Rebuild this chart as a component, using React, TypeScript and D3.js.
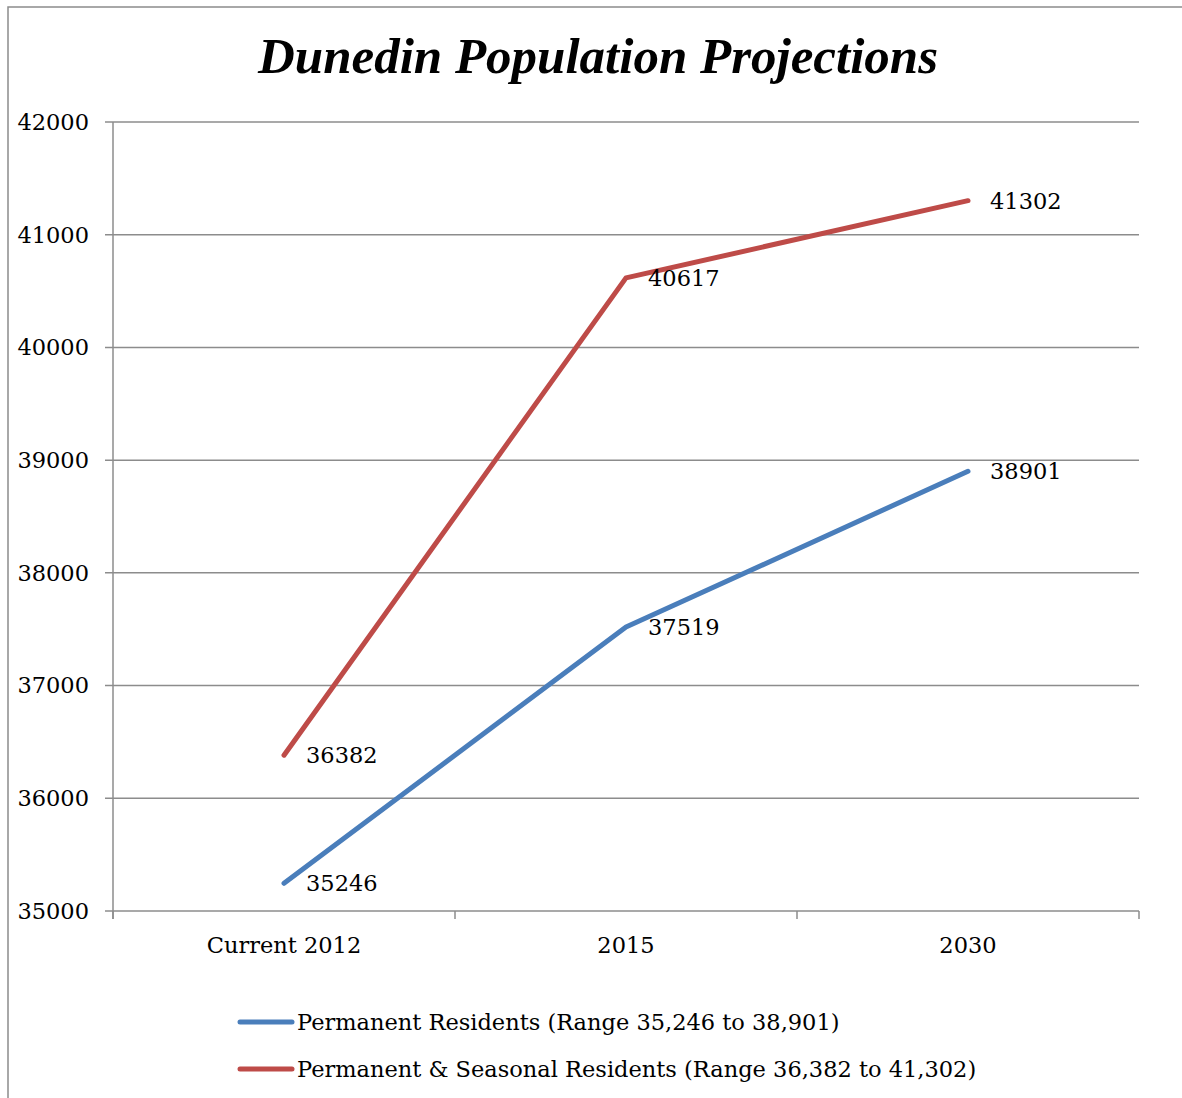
import React, { useEffect, useRef } from "react";
import * as d3 from "d3";

const categories = ["Current 2012", "2015", "2030"];
const permanent = [35246, 37519, 38901];
const seasonal = [36382, 40617, 41302];
const yTicks = [35000, 36000, 37000, 38000, 39000, 40000, 41000, 42000];
const seriesNames = [
  "Permanent Residents (Range 35,246 to 38,901)",
  "Permanent & Seasonal Residents (Range 36,382 to 41,302)",
];
const seriesColors = ["#4a7ebb", "#be4b48"];

const FONT = "'DejaVu Serif', serif";
const TITLE_FONT = "'Liberation Serif', 'Times New Roman', serif";
const FS = 22.5;

export default function App() {
  const svgRef = useRef<SVGSVGElement>(null);

  useEffect(() => {
    const svg = d3.select(svgRef.current);
    svg.selectAll("*").remove();

    const dims = { left: 113, right: 1139, top: 122, bottom: 911 };

    // outer chart border (only top & left visible in the frame)
    svg.append("rect")
      .attr("x", 8).attr("y", 7)
      .attr("width", 1300).attr("height", 1300)
      .attr("fill", "none")
      .attr("stroke", "#8c8c8c")
      .attr("stroke-width", 1.5);

    svg.append("text")
      .attr("x", 598).attr("y", 73)
      .attr("text-anchor", "middle")
      .attr("font-family", TITLE_FONT)
      .attr("font-weight", "bold")
      .attr("font-style", "italic")
      .attr("font-size", 51)
      .text("Dunedin Population Projections");

    const xScale = d3.scaleBand().domain(categories).range([dims.left, dims.right]);
    const yScale = d3.scaleLinear().domain([35000, 42000]).range([dims.bottom, dims.top]);

    // gridlines
    svg.append("g")
      .selectAll("line")
      .data(yTicks)
      .join("line")
      .attr("x1", dims.left - 8)
      .attr("x2", dims.right)
      .attr("y1", d => yScale(d))
      .attr("y2", d => yScale(d))
      .attr("stroke", "#8c8c8c")
      .attr("stroke-width", 1.5);

    // y axis
    svg.append("line")
      .attr("x1", dims.left).attr("x2", dims.left)
      .attr("y1", dims.top).attr("y2", dims.bottom + 8)
      .attr("stroke", "#8c8c8c").attr("stroke-width", 1.5);

    svg.append("g")
      .selectAll("text")
      .data(yTicks)
      .join("text")
      .attr("x", dims.left - 24)
      .attr("y", d => yScale(d))
      .attr("dy", "0.35em")
      .attr("text-anchor", "end")
      .attr("font-family", FONT)
      .attr("font-size", FS)
      .text(d => d);

    // x tick marks at band edges
    const edges = categories.map(c => xScale(c)!).concat(dims.right);
    svg.append("g")
      .selectAll("line")
      .data(edges)
      .join("line")
      .attr("x1", d => d).attr("x2", d => d)
      .attr("y1", dims.bottom).attr("y2", dims.bottom + 8)
      .attr("stroke", "#8c8c8c").attr("stroke-width", 1.5);

    svg.append("g")
      .selectAll("text")
      .data(categories)
      .join("text")
      .attr("x", d => xScale(d)! + xScale.bandwidth() / 2)
      .attr("y", dims.bottom + 34)
      .attr("dy", "0.35em")
      .attr("text-anchor", "middle")
      .attr("font-family", FONT)
      .attr("font-size", FS)
      .text(d => d);

    const cx = (c: string) => xScale(c)! + xScale.bandwidth() / 2;
    const line = d3.line<number>()
      .x((_, i) => cx(categories[i]))
      .y(d => yScale(d));

    [permanent, seasonal].forEach((series, s) => {
      svg.append("path")
        .datum(series)
        .attr("d", line)
        .attr("fill", "none")
        .attr("stroke", seriesColors[s])
        .attr("stroke-width", 5)
        .attr("stroke-linecap", "round")
        .attr("stroke-linejoin", "round");

      svg.append("g")
        .selectAll("text")
        .data(series)
        .join("text")
        .attr("x", (_, i) => cx(categories[i]) + 22)
        .attr("y", d => yScale(d))
        .attr("dy", "0.35em")
        .attr("font-family", FONT)
        .attr("font-size", FS)
        .text(d => d);
    });

    // legend
    const legend = svg.append("g");
    seriesNames.forEach((name, i) => {
      const y = 1022 + i * 47;
      legend.append("line")
        .attr("x1", 240).attr("x2", 292)
        .attr("y1", y).attr("y2", y)
        .attr("stroke", seriesColors[i])
        .attr("stroke-width", 5)
        .attr("stroke-linecap", "round");
      legend.append("text")
        .attr("x", 297).attr("y", y)
        .attr("dy", "0.35em")
        .attr("font-family", FONT)
        .attr("font-size", FS)
        .text(name);
    });
  }, []);

  return (
    <svg
      ref={svgRef}
      width={1182}
      height={1098}
      style={{ position: "absolute", left: 0, top: 0, background: "#fff" }}
    />
  );
}
